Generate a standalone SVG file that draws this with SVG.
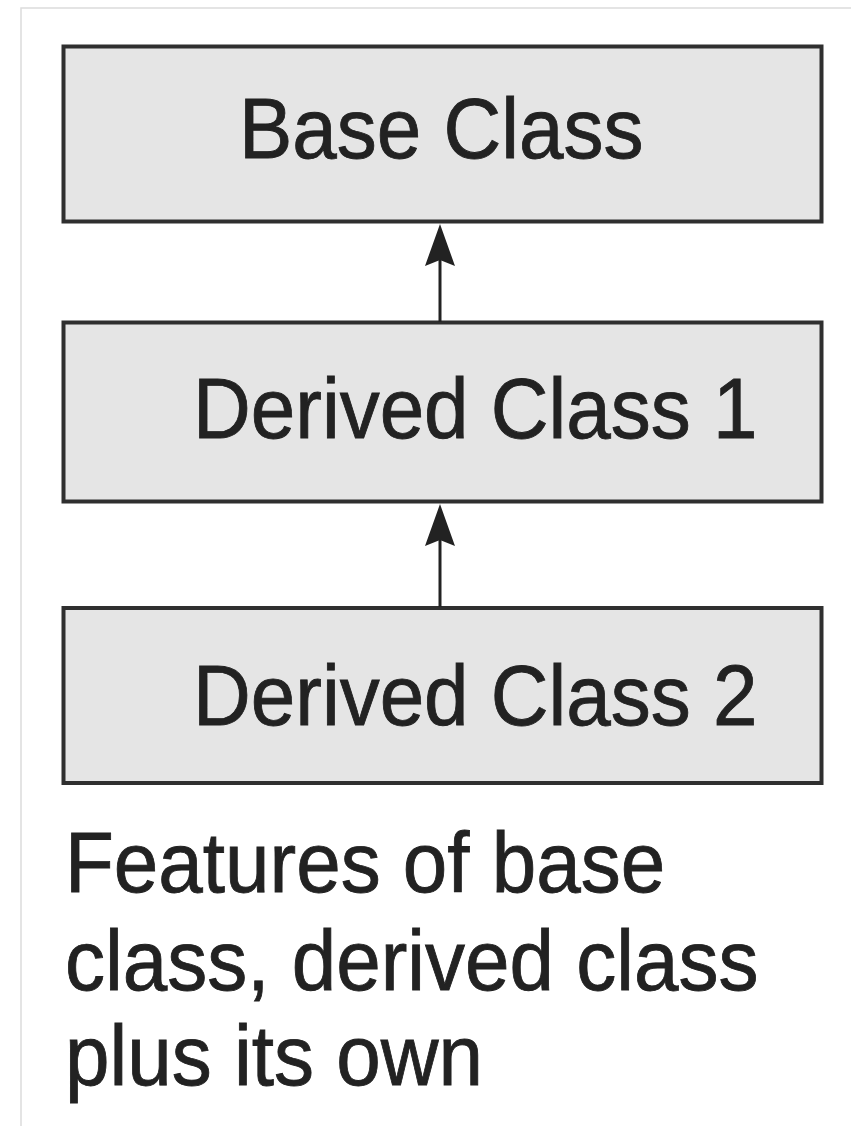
<svg xmlns="http://www.w3.org/2000/svg" width="851" height="1126" viewBox="0 0 851 1126">
  <style>
    .frame { fill: none; stroke: #dcdcdc; stroke-width: 1.5; }
    .box { fill: #e5e5e5; stroke: #2f2f2f; stroke-width: 4; }
    .label { font-family: "Liberation Sans", Arial, sans-serif; font-size: 80px; fill: #222; stroke: #222; stroke-width: 0.8; }
    .link { stroke: #222; stroke-width: 3; fill: none; }
    .head { fill: #222; }
  </style>

  <rect width="851" height="1126" fill="#ffffff"/>
  <!-- thin page frame along top and left -->
  <path class="frame" d="M21,1126 V8 H851"/>

  <g id="base-class">
    <rect class="box" x="63.5" y="46.5" width="758" height="175"/>
    <text class="label" transform="translate(239,158) scale(1,1.07)">Base Class</text>
  </g>

  <g id="derived-class-1">
    <rect class="box" x="63.5" y="322.5" width="758" height="179"/>
    <text class="label" transform="translate(193,438) scale(1,1.07)">Derived Class 1</text>
  </g>

  <g id="derived-class-2">
    <rect class="box" x="63.5" y="608" width="758" height="175"/>
    <text class="label" transform="translate(193,725) scale(1,1.07)">Derived Class 2</text>
  </g>

  <g id="connectors">
    <!-- Derived Class 1 -> Base Class -->
    <line class="link" x1="440" y1="322" x2="440" y2="250"/>
    <path class="head" d="M440,224 L455,266 L440,260 L425,266 Z"/>
    <!-- Derived Class 2 -> Derived Class 1 -->
    <line class="link" x1="440" y1="607" x2="440" y2="530"/>
    <path class="head" d="M440,504 L455,546 L440,540 L425,546 Z"/>
  </g>

  <g id="caption">
    <text class="label" transform="translate(65,892) scale(1,1.07)">Features of base</text>
    <text class="label" transform="translate(65,990) scale(1,1.07)">class, derived class</text>
    <text class="label" transform="translate(65,1085) scale(1,1.07)">plus its own</text>
  </g>
</svg>
